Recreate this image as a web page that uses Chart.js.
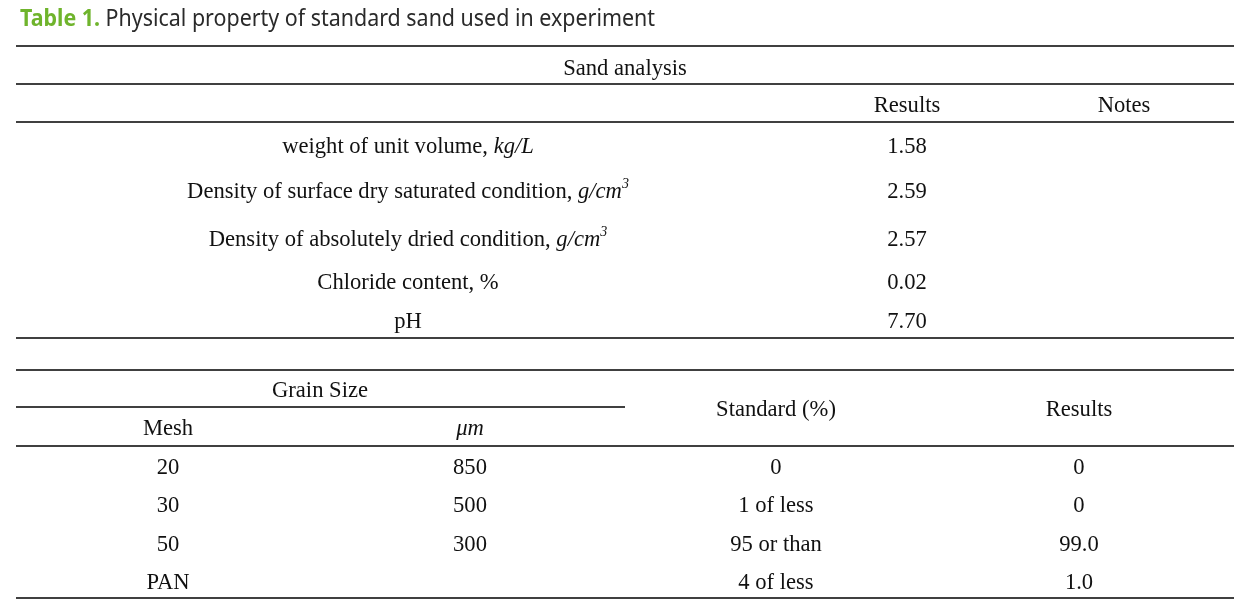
<!DOCTYPE html>
<html>
<head>
<meta charset="utf-8">
<script src="https://cdn.jsdelivr.net/npm/chart.js@4/dist/chart.umd.min.js"></script>
<style>
  html, body { margin: 0; padding: 0; background: #fff; }
  #wrap { width: 1256px; height: 612px; }
</style>
</head>
<body>
<div id="wrap"><canvas id="tbl" width="1256" height="612"></canvas></div>
<script>
// ==== data ====
const titleLabel = "Table 1.";
const titleText  = "Physical property of standard sand used in experiment";

const sandHeader   = "Sand analysis";
const sandCols     = ["Results", "Notes"];
const sandProps    = [
  "weight of unit volume, *kg/L*",
  "Density of surface dry saturated condition, *g/cm*^3^",
  "Density of absolutely dried condition, *g/cm*^3^",
  "Chloride content, %",
  "pH"
];
const sandResults  = ["1.58", "2.59", "2.57", "0.02", "7.70"];
const sandNotes    = ["", "", "", "", ""];

const grainHeader  = "Grain Size";
const grainCols    = ["Mesh", "*\u03bcm*", "Standard (%)", "Results"];
const meshSizes    = ["20", "30", "50", "PAN"];
const grainUm      = ["850", "500", "300", ""];
const standardPct  = ["0", "1 of less", "95 or than", "4 of less"];
const grainResults = ["0", "0", "99.0", "1.0"];

// ==== layout (page units) ====
const left = 16, right = 1234;
const rules = [
  { y: 46,  x0: left, x1: right },
  { y: 84,  x0: left, x1: right },
  { y: 122, x0: left, x1: right },
  { y: 338, x0: left, x1: right },
  { y: 370, x0: left, x1: right },
  { y: 407, x0: left, x1: 625 },
  { y: 446, x0: left, x1: right },
  { y: 598, x0: left, x1: right }
];
const sandColX  = [408, 907, 1124];
const sandRowY  = [145, 190, 238, 281, 320];
const grainColX = [168, 470, 776, 1079];
const grainRowY = [466, 504, 543, 581];

const BODY = '"Liberation Serif", "Times New Roman", serif';
const FS = 22.6;

// *italic*  ^superscript^
function parse(str) {
  const out = [];
  let italic = false, sup = false, buf = "";
  for (const ch of str) {
    if (ch === "*" || ch === "^") {
      if (buf) out.push({ t: buf, italic, sup });
      buf = "";
      if (ch === "*") italic = !italic; else sup = !sup;
    } else buf += ch;
  }
  if (buf) out.push({ t: buf, italic, sup });
  return out;
}

function segFont(s) {
  return (s.italic || s.sup ? "italic " : "") + (s.sup ? 14 : FS) + "px " + BODY;
}

function drawCell(ctx, str, cx, cy) {
  if (!str) return;
  const segs = parse(str);
  let w = 0;
  segs.forEach(s => { ctx.font = segFont(s); w += ctx.measureText(s.t).width; });
  let x = cx - w / 2;
  const base = cy + 7.5;
  segs.forEach(s => {
    ctx.font = segFont(s);
    ctx.fillText(s.t, x, s.sup ? base - 10 : base);
    x += ctx.measureText(s.t).width;
  });
}

const tablePlugin = {
  id: "tableText",
  afterDatasetsDraw(chart) {
    const { ctx, scales: { x, y } } = chart;
    const px = v => x.getPixelForValue(v);
    const py = v => y.getPixelForValue(v);
    ctx.save();
    ctx.textBaseline = "alphabetic";
    ctx.textAlign = "left";

    // title
    const tf1 = 'bold 23px "Noto Sans", sans-serif';
    const tf2 = '23px "Noto Sans", sans-serif';
    ctx.font = tf1; const w1 = ctx.measureText(titleLabel + " ").width;
    ctx.font = tf2; const w2 = ctx.measureText(titleText).width;
    const sx = 635 / (w1 + w2);
    ctx.save();
    ctx.translate(px(20), py(26));
    ctx.scale(sx, 1);
    ctx.font = tf1; ctx.fillStyle = "#6fb42c"; ctx.fillText(titleLabel, 0, 0);
    ctx.font = tf2; ctx.fillStyle = "#2a2a2a"; ctx.fillText(titleText, w1, 0);
    ctx.restore();

    ctx.fillStyle = "#111";
    // sand analysis
    drawCell(ctx, sandHeader, px((left + right) / 2), py(67));
    sandCols.forEach((c, i) => drawCell(ctx, c, px(sandColX[i + 1]), py(104)));
    sandProps.forEach((p, i) => {
      drawCell(ctx, p, px(sandColX[0]), py(sandRowY[i]));
      drawCell(ctx, sandResults[i], px(sandColX[1]), py(sandRowY[i]));
      drawCell(ctx, sandNotes[i], px(sandColX[2]), py(sandRowY[i]));
    });

    // grain size
    drawCell(ctx, grainHeader, px(320), py(389));
    drawCell(ctx, grainCols[0], px(grainColX[0]), py(427));
    drawCell(ctx, grainCols[1], px(grainColX[1]), py(427));
    drawCell(ctx, grainCols[2], px(grainColX[2]), py(408));
    drawCell(ctx, grainCols[3], px(grainColX[3]), py(408));
    meshSizes.forEach((m, i) => {
      const ry = py(grainRowY[i]);
      drawCell(ctx, m, px(grainColX[0]), ry);
      drawCell(ctx, grainUm[i], px(grainColX[1]), ry);
      drawCell(ctx, standardPct[i], px(grainColX[2]), ry);
      drawCell(ctx, grainResults[i], px(grainColX[3]), ry);
    });
    ctx.restore();
  }
};

new Chart(document.getElementById("tbl"), {
  type: "line",
  data: {
    datasets: rules.map(r => ({
      data: [{ x: r.x0, y: r.y }, { x: r.x1, y: r.y }],
      borderColor: "#000",
      borderWidth: 1.5,
      pointRadius: 0,
      fill: false
    }))
  },
  options: {
    responsive: false,
    animation: false,
    layout: { padding: 0 },
    plugins: { legend: { display: false }, tooltip: { enabled: false } },
    scales: {
      x: { type: "linear", min: 0, max: 1256, display: false },
      y: { type: "linear", min: 0, max: 612, reverse: true, display: false }
    }
  },
  plugins: [tablePlugin]
});
</script>
</body>
</html>
